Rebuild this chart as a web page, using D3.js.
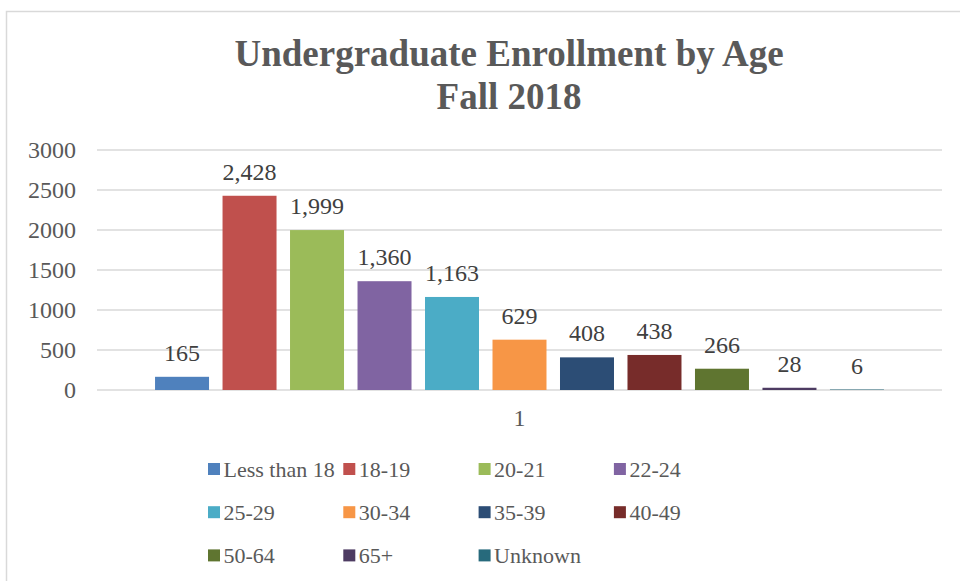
<!DOCTYPE html>
<html lang="en">
<head>
  <meta charset="UTF-8">
  <title>Undergraduate Enrollment by Age</title>
  <script src="https://d3js.org/d3.v7.min.js"></script>
  <style>
    body { margin: 0; background: #fff; }
    svg { display: block; font-family: "Liberation Serif", "Times New Roman", serif; }
  </style>
</head>
<body>
  <svg width="960" height="581"></svg>
  <script>
    const ageGroups = [`Less than 18`, `18-19`, `20-21`, `22-24`, `25-29`, `30-34`, `35-39`, `40-49`, `50-64`, `65+`, `Unknown`];
    const enrollment = [165, 2428, 1999, 1360, 1163, 629, 408, 438, 266, 28, 6];
    const colors = [`#4F81BD`, `#C0504D`, `#9BBB59`, `#8064A2`, `#4BACC6`, `#F79646`, `#2C4D75`, `#772C2A`, `#5F7530`, `#4D3B62`, `#276A7C`];
    const yTicks = [0, 500, 1000, 1500, 2000, 2500, 3000];
    const categoryLabel = `1`;

    const data = ageGroups.map((g, i) => ({group: g, value: enrollment[i], color: colors[i]}));

    const margin = {top: 150, bottom: 191, left: 97, right: 18};
    const width = 960;
    const height = 581;

    const svg = d3.select(`svg`);

    // chart border
    svg.append(`rect`)
      .attr(`x`, 6.5).attr(`y`, 11.5)
      .attr(`width`, 1000).attr(`height`, 1000)
      .attr(`fill`, `none`)
      .attr(`stroke`, `#d9d9d9`)
      .attr(`stroke-width`, 1.5);

    svg.append(`text`)
      .attr(`x`, 509).attr(`y`, 66)
      .attr(`text-anchor`, `middle`)
      .attr(`font-size`, 37).attr(`font-weight`, `bold`)
      .attr(`fill`, `#595959`)
      .text(`Undergraduate Enrollment by Age`);
    svg.append(`text`)
      .attr(`x`, 509).attr(`y`, 109)
      .attr(`text-anchor`, `middle`)
      .attr(`font-size`, 37).attr(`font-weight`, `bold`)
      .attr(`fill`, `#595959`)
      .text(`Fall 2018`);

    const yScale = d3.scaleLinear()
      .domain([0, 3000])
      .range([height - margin.bottom, margin.top]);

    const xScale = d3.scaleBand()
      .domain(ageGroups)
      .range([margin.left, width - margin.right])
      .paddingInner(0.2)
      .paddingOuter(0.86);

    // gridlines
    svg.append(`g`)
      .selectAll(`line`)
      .data(yTicks)
      .join(`line`)
      .attr(`x1`, margin.left)
      .attr(`x2`, width - margin.right)
      .attr(`y1`, d => yScale(d))
      .attr(`y2`, d => yScale(d))
      .attr(`stroke`, `#d9d9d9`)
      .attr(`stroke-width`, 1.5);

    const yAxis = d3.axisLeft(yScale)
      .tickValues(yTicks)
      .tickFormat(d3.format(`d`))
      .tickSize(0)
      .tickPadding(21);
    svg.append(`g`)
      .attr(`transform`, `translate(${margin.left}, 0)`)
      .call(yAxis)
      .attr(`font-family`, null)
      .call(g => g.select(`.domain`).remove())
      .call(g => g.selectAll(`text`)
        .attr(`font-size`, 24)
        .attr(`fill`, `#595959`));

    svg.append(`g`)
      .selectAll(`rect`)
      .data(data)
      .join(`rect`)
      .attr(`x`, d => xScale(d.group))
      .attr(`width`, xScale.bandwidth())
      .attr(`y`, d => yScale(d.value))
      .attr(`height`, d => yScale(0) - yScale(d.value))
      .attr(`fill`, d => d.color);

    svg.append(`g`)
      .selectAll(`text`)
      .data(data)
      .join(`text`)
      .attr(`x`, d => xScale(d.group) + xScale.bandwidth() / 2)
      .attr(`y`, d => yScale(d.value) - 16)
      .attr(`text-anchor`, `middle`)
      .attr(`font-size`, 24)
      .attr(`fill`, `#404040`)
      .text(d => d3.format(`,`)(d.value));

    svg.append(`text`)
      .attr(`x`, (margin.left + width - margin.right) / 2)
      .attr(`y`, 426)
      .attr(`text-anchor`, `middle`)
      .attr(`font-size`, 24)
      .attr(`fill`, `#595959`)
      .text(categoryLabel);

    // legend, 4 per row
    const legend = svg.append(`g`)
      .selectAll(`g`)
      .data(data)
      .join(`g`)
      .attr(`transform`, (d, i) => `translate(${208 + (i % 4) * 135.3}, ${463 + Math.floor(i / 4) * 43.2})`);
    legend.append(`rect`)
      .attr(`width`, 12).attr(`height`, 12)
      .attr(`fill`, d => d.color);
    legend.append(`text`)
      .attr(`x`, 15.5).attr(`y`, 14)
      .attr(`font-size`, 22)
      .attr(`fill`, `#595959`)
      .text(d => d.group);
  </script>
</body>
</html>
